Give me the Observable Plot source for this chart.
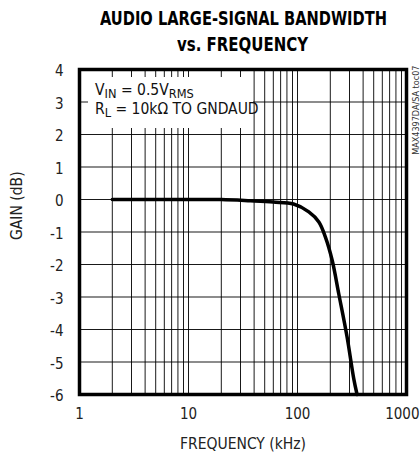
<!DOCTYPE html>
<html>
<head>
<meta charset="utf-8">
<script src="https://cdn.jsdelivr.net/npm/d3@7"></script>
<script src="https://cdn.jsdelivr.net/npm/@observablehq/plot@0.6"></script>
<style>
  html, body { margin: 0; padding: 0; background: #fff; }
  body { width: 420px; height: 454px; overflow: hidden; font-family: "DejaVu Sans", sans-serif; font-stretch: condensed; }
  #wrap { position: relative; width: 420px; height: 454px; }
  #title { position: absolute; left: 0; top: 0; width: 420px; height: 58px; }
  #title span { position: absolute; white-space: nowrap; font-weight: bold; font-size: 20px; color: #000; transform-origin: 0 0; }
  #chart { position: absolute; left: 0; top: 58px; }
  #note { position: absolute; left: 88px; top: 77px; width: 165px; height: 51px; background: #fff; font-size: 15.5px; color: #111; }
  #note div { position: absolute; left: 7px; white-space: nowrap; }
  #note sub { font-size: 0.82em; vertical-align: -0.2em; line-height: 0; }
</style>
</head>
<body>
<div id="wrap">
  <div id="title">
    <span id="t1" style="top:6px">AUDIO LARGE-SIGNAL BANDWIDTH</span>
    <span id="t2" style="top:32px">vs. FREQUENCY</span>
  </div>
  <div id="chart"></div>
  <div id="note">
    <div style="top:4px">V<sub>IN</sub> = 0.5V<sub>RMS</sub></div>
    <div style="top:23px">R<sub>L</sub> = 10kΩ TO GNDAUD</div>
  </div>
</div>
<script>
// Measured curve: frequency (kHz) and gain (dB)
const freq = [2, 5, 10, 20, 37, 60, 92, 127, 157, 180, 208, 239, 285, 328, 352];
const gain = [0, 0, 0, 0, -0.04, -0.08, -0.14, -0.38, -0.69, -1.15, -1.87, -2.9, -4.23, -5.51, -6.0];

// Axes
const xTicks = [1, 10, 100];
const xTickLast = [1000];
const yTicks = [-6, -5, -4, -3, -2, -1, 0, 1, 2, 3, 4];
const xGrid = [1,2,3,4,5,6,7,8,9,10,20,30,40,50,60,70,80,90,100,200,300,400,500,600,700,800,900,1000];

const xLabel = "FREQUENCY (kHz)";
const yLabel = "GAIN (dB)";
const sideNote = "MAX4397DA/SA toc07";

// Fit the bold title lines to the condensed widths of the reference
function fitTitle(id, width, center) {
  const el = document.getElementById(id);
  const w = el.getBoundingClientRect().width;
  const s = Math.min(1, width / w);
  el.style.transform = `scaleX(${s})`;
  el.style.left = (center - width / 2) + "px";
}
fitTitle("t1", 287, 243);
fitTitle("t2", 131, 242);

const data = freq.map((f, i) => ({f, g: gain[i]}));

const chart = Plot.plot({
  width: 420,
  height: 396,
  marginTop: 11,
  marginBottom: 60,
  marginLeft: 79,
  marginRight: 14,
  style: {fontFamily: '"DejaVu Sans", sans-serif', fontStretch: "condensed", fontSize: "15px", color: "#222", background: "#fff"},
  x: {type: "log", domain: [1, 1000], label: null},
  y: {domain: [-6, 4], label: null},
  marks: [
    Plot.ruleX(xGrid, {stroke: "#000", strokeWidth: 1, strokeOpacity: 0.9}),
    Plot.ruleY(yTicks, {stroke: "#000", strokeWidth: 1, strokeOpacity: 0.9}),
    Plot.line(data, {x: "f", y: "g", stroke: "#000", strokeWidth: 3.5, curve: "catmull-rom"}),
    Plot.frame({stroke: "#000", strokeWidth: 3.5}),
    Plot.axisX({ticks: xTicks, tickFormat: d => String(d), tickSize: 0, tickPadding: 14, label: null}),
    Plot.axisX({ticks: xTickLast, tickFormat: d => String(d), tickSize: 0, tickPadding: 14, label: null, textAnchor: "end", dx: 13}),
    Plot.axisY({ticks: yTicks, tickFormat: d => String(d), tickSize: 0, tickPadding: 16, label: null, dy: 2}),
    Plot.text([xLabel], {frameAnchor: "bottom", dy: 54, lineAnchor: "bottom", fontSize: 15.5, fill: "#222"}),
    Plot.text([yLabel], {frameAnchor: "left", rotate: -90, dx: -62, dy: 8, fontSize: 15.5, fill: "#222"}),
    Plot.text([sideNote], {frameAnchor: "top-right", rotate: -90, textAnchor: "end", dx: 6, dy: -4, fontSize: 9, fill: "#333"})
  ]
});
document.getElementById("chart").appendChild(chart);
</script>
</body>
</html>
